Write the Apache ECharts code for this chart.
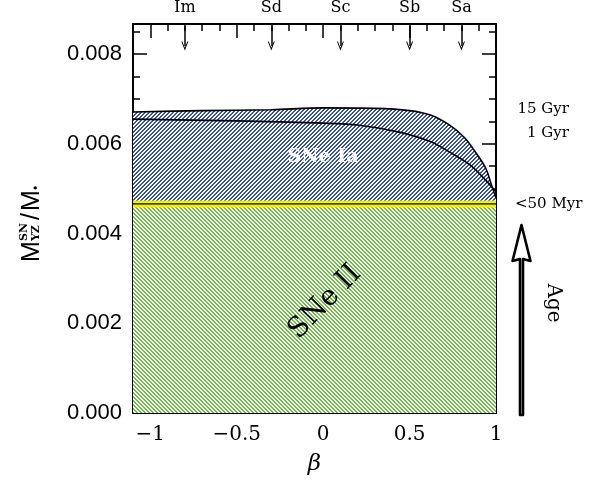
<!DOCTYPE html>
<html><head><meta charset="utf-8">
<script src="https://cdn.jsdelivr.net/npm/echarts@6/dist/echarts.min.js"></script>
<style>html,body{margin:0;padding:0;background:#fff}#c{width:603px;height:485px}</style>
</head><body><div id="c"></div>
<script>
// ---- data ----
const betaUpper = [-1.1, -0.7, -0.3, 0, 0.3, 0.5, 0.62, 0.73, 0.82, 0.88, 0.94, 0.98, 1.0];
const massUpper = [0.00671, 0.00674, 0.00676, 0.00680, 0.00679, 0.00674, 0.00664, 0.00642, 0.00613, 0.00582, 0.00546, 0.00501, 0.00479];
const betaLower = [-1.1, -0.5, 0, 0.2, 0.44, 0.62, 0.73, 0.85, 0.94, 1.0];
const massLower = [0.00655, 0.00651, 0.00646, 0.00642, 0.00626, 0.00605, 0.00582, 0.00553, 0.00519, 0.00493];
const betaYoung = [-1.1, 1.0];
const massYoung = [0.00466, 0.00466];
const typeNames = ['Im', 'Sd', 'Sc', 'Sb', 'Sa'];
const typeBeta = [-0.8, -0.3, 0.1, 0.5, 0.8];
const xMajor = [-1, -0.5, 0, 0.5, 1];
const xMinor = [-1.1, -0.9, -0.8, -0.7, -0.6, -0.4, -0.3, -0.2, -0.1, 0.1, 0.2, 0.3, 0.4, 0.6, 0.7, 0.8, 0.9];
const yMajor = [0, 0.002, 0.004, 0.006, 0.008];
const yMinor = [0.0005, 0.001, 0.0015, 0.0025, 0.003, 0.0035, 0.0045, 0.005, 0.0055, 0.0065, 0.007, 0.0075, 0.0085];
const X_MIN = -1.1, X_MAX = 1.0, Y_MIN = 0, Y_MAX = 0.00867;

const zip = (a, b) => a.map((v, i) => [v, b[i]]);

function hatch(color, dir) {
  const c = document.createElement('canvas');
  c.width = 4; c.height = 4;
  const g = c.getContext('2d');
  g.fillStyle = '#fff'; g.fillRect(0, 0, 4, 4);
  g.fillStyle = color;
  for (let x = 0; x < 4; x++) for (let y = 0; y < 4; y++) {
    const k = dir > 0 ? (x + y) % 4 : (((x - y) % 4) + 4) % 4;
    if (k < 2) g.fillRect(x, y, 1, 1);
  }
  return c;
}
const bluePat = { image: hatch('#3552a6', 1), repeat: 'repeat' };
const greenPat = { image: hatch('#6cbe44', -1), repeat: 'repeat' };

const chart = echarts.init(document.getElementById('c'), null, { renderer: 'canvas' });
const serifFont = 'DejaVu Serif';
const axisLineStyle = { color: '#000', width: 2 };
const tickStyle = { color: '#000', width: 1.5 };

function xAx(pos, ticks, len, showLine, extra) {
  return Object.assign({
    type: 'value', position: pos, min: X_MIN, max: X_MAX,
    axisLine: { show: showLine, onZero: false, lineStyle: axisLineStyle },
    axisTick: { show: true, inside: true, length: len, customValues: ticks, lineStyle: tickStyle },
    axisLabel: { show: false },
    splitLine: { show: false }
  }, extra || {});
}
function yAx(pos, ticks, len, showLine, extra) {
  return Object.assign({
    type: 'value', position: pos, min: Y_MIN, max: Y_MAX,
    axisLine: { show: showLine, onZero: false, lineStyle: axisLineStyle },
    axisTick: { show: true, inside: true, length: len, customValues: ticks, lineStyle: tickStyle },
    axisLabel: { show: false },
    splitLine: { show: false }
  }, extra || {});
}
const fmtX = v => v === 0 ? '0' : (v < 0 ? '\u2212' + Math.abs(v) : String(v));

const arrowSymbol = 'path://M5,0L10,10L8.6,10L5,3L1.4,10L0,10Z';

const option = {
  animation: false,
  backgroundColor: '#fff',
  grid: { left: 133, right: 107, top: 24, bottom: 72 },
  xAxis: [
    xAx('bottom', xMajor, 14, true, {
      axisLabel: { show: true, customValues: xMajor, formatter: fmtX, color: '#000',
        fontFamily: serifFont, fontSize: 20, margin: 12 },
      name: 'β', nameLocation: 'middle', nameGap: 40,
      nameTextStyle: { fontFamily: serifFont, fontStyle: 'italic', fontSize: 23, color: '#000' }
    }),
    xAx('bottom', xMinor, 7, false),
    xAx('top', xMajor, 14, true),
    xAx('top', xMinor, 7, false),
    xAx('top', [], 0, false, {
      axisTick: { show: false },
      axisLabel: { show: true, customValues: typeBeta, color: '#000', fontFamily: serifFont, fontSize: 16, margin: 8,
        formatter: v => typeNames[typeBeta.findIndex(t => Math.abs(t - v) < 1e-9)] }
    })
  ],
  yAxis: [
    yAx('left', yMajor, 14, true, {
      axisLabel: { show: true, customValues: yMajor, formatter: v => v.toFixed(3), color: '#000',
        fontFamily: 'Liberation Sans', fontSize: 22, margin: 11 }
    }),
    yAx('left', yMinor, 7, false),
    yAx('right', yMajor, 14, true),
    yAx('right', yMinor, 7, false)
  ],
  series: [
    { name: '15 Gyr', type: 'line', data: zip(betaUpper, massUpper), smooth: 0.3,
      symbol: 'none', z: 2, lineStyle: { color: '#000', width: 1.6 }, areaStyle: { color: bluePat, opacity: 1 } },
    { name: '1 Gyr', type: 'line', data: zip(betaLower, massLower), smooth: 0.3,
      symbol: 'none', z: 3, lineStyle: { color: '#000', width: 1.6 } },
    { name: 'SNe II', type: 'line', data: zip(betaYoung, massYoung), symbol: 'none', z: 4,
      lineStyle: { color: '#f2f200', width: 7 }, areaStyle: { color: greenPat, opacity: 1 } },
    { name: '<50 Myr', type: 'line', data: zip(betaYoung, massYoung), symbol: 'none', z: 5,
      lineStyle: { color: '#000', width: 1.3 },
      markLine: {
        silent: true, symbol: ['none', arrowSymbol], symbolSize: [7, 9], label: { show: false },
        lineStyle: { color: '#000', width: 1.5, type: 'solid' },
        data: typeBeta.map(b => [{ coord: [b, Y_MAX - 0.00005] }, { coord: [b, Y_MAX - 0.00049] }])
      } }
  ],
  graphic: [
    { type: 'text', x: 323, y: 157, z: 100, style: { text: 'SNe Ia', fill: '#fff', font: 'bold 19px "DejaVu Serif"',
      textAlign: 'center', textVerticalAlign: 'middle' } },
    { type: 'text', x: 325, y: 302, rotation: Math.PI * 46 / 180, z: 100,
      style: { text: 'SNe II', fill: '#000', font: '28px "DejaVu Serif"', textAlign: 'center', textVerticalAlign: 'middle' } },
    { type: 'text', x: 569, y: 109, style: { text: '15 Gyr', fill: '#000', font: '15px "DejaVu Serif"', textAlign: 'right', textVerticalAlign: 'middle' } },
    { type: 'text', x: 569, y: 133, style: { text: '1 Gyr', fill: '#000', font: '15px "DejaVu Serif"', textAlign: 'right', textVerticalAlign: 'middle' } },
    { type: 'text', x: 515, y: 204, style: { text: '<50 Myr', fill: '#000', font: '15px "DejaVu Serif"', textAlign: 'left', textVerticalAlign: 'middle' } },
    { type: 'polygon', shape: { points: [[520, 415], [520, 259], [512.5, 261], [521.5, 225], [530.5, 261], [523, 259], [523, 415]] },
      style: { fill: '#fff', stroke: '#000', lineWidth: 2.6, lineJoin: 'round' } },
    { type: 'text', x: 553, y: 303, rotation: -Math.PI / 2,
      style: { text: 'Age', fill: '#000', font: '20px "DejaVu Serif"', textAlign: 'center', textVerticalAlign: 'middle' } },
    { type: 'group', x: 32, y: 262, rotation: Math.PI / 2, children: [
      { type: 'text', x: 0, y: 0, style: { text: 'M', fill: '#000', font: '25px "Liberation Sans"', textAlign: 'left', textVerticalAlign: 'middle' } },
      { type: 'text', x: 21, y: -8, style: { text: 'SN', fill: '#000', font: 'bold 11px "DejaVu Serif"', textAlign: 'left', textVerticalAlign: 'middle' } },
      { type: 'text', x: 21, y: 4, style: { text: 'YZ', fill: '#000', font: 'bold 11px "DejaVu Serif"', textAlign: 'left', textVerticalAlign: 'middle' } },
      { type: 'text', x: 42, y: 0, style: { text: '/', fill: '#000', font: '25px "Liberation Sans"', textAlign: 'left', textVerticalAlign: 'middle' } },
      { type: 'text', x: 51, y: 0, style: { text: 'M', fill: '#000', font: '25px "Liberation Sans"', textAlign: 'left', textVerticalAlign: 'middle' } },
      { type: 'text', x: 72, y: 5, style: { text: '•', fill: '#000', font: '12px "Liberation Sans"', textAlign: 'left', textVerticalAlign: 'middle' } }
    ] }
  ]
};
chart.setOption(option);
</script>
</body></html>
